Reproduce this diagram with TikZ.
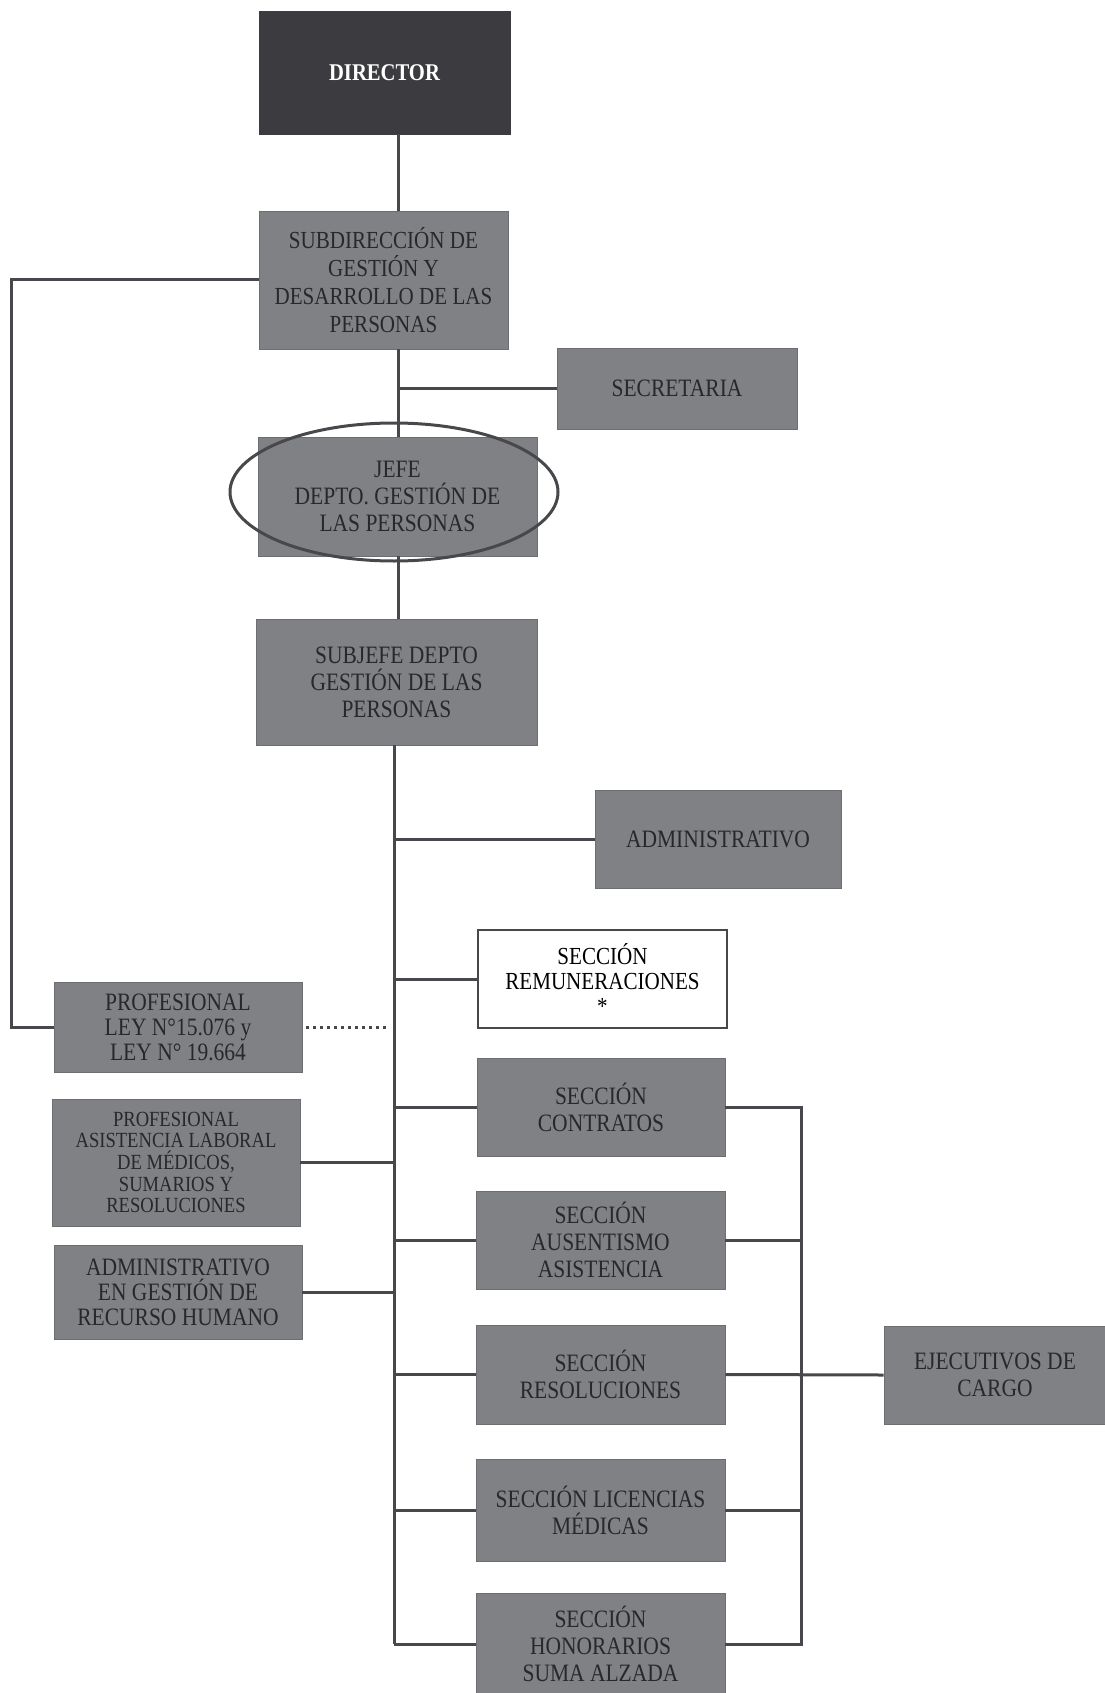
\documentclass[tikz,border=0pt]{standalone}
\usepackage{fontspec}
\setmainfont[FakeStretch=0.86]{Liberation Serif}
\usetikzlibrary{shapes.geometric}
\definecolor{boxgray}{RGB}{128,129,133}
\definecolor{boxtext}{RGB}{40,40,44}
\definecolor{dirgray}{RGB}{60,60,64}
\definecolor{linegray}{RGB}{72,72,76}
\tikzset{
  box/.style={fill=boxgray, draw=boxgray!85!black, line width=0.8pt, text=boxtext, align=center, inner sep=0pt,
    font=\fontsize{25}{27}\selectfont},
  whitebox/.style={fill=white, draw=linegray, line width=2pt, text=black, align=center, inner sep=0pt,
    font=\fontsize{24.5}{25}\selectfont},
  dirbox/.style={fill=dirgray, draw=dirgray, text=white, align=center, inner sep=0pt,
    font=\fontsize{24}{26}\selectfont\bfseries},
  conn/.style={draw=linegray, line width=3pt},
  dotconn/.style={draw=linegray, line width=3pt, dash pattern=on 2.5pt off 4.5pt},
  oval/.style={draw=linegray, line width=3pt, ellipse, fill=none, inner sep=0pt}
}
\begin{document}
\begin{tikzpicture}[x=1pt,y=-1pt]
\useasboundingbox[fill=white] (0,0) rectangle (1104,1693);
% trunk reference coordinates
\coordinate (tx) at (398,0);
\coordinate (tb) at (394,0);
\coordinate (rb) at (801,0);
\coordinate (L) at (11,0);

\node[dirbox, minimum width=251pt, minimum height=123pt] (dir) at (384.5,72.5) {DIRECTOR};
\node[box, minimum width=249pt, minimum height=138pt, font=\fontsize{24.5}{28}\selectfont] (sub) at (383.5,280) {SUBDIRECCIÓN DE\\GESTIÓN Y\\DESARROLLO DE LAS\\PERSONAS};
\node[box, minimum width=240pt, minimum height=81pt] (sec) at (677,388.5) {SECRETARIA};
\node[box, minimum width=279pt, minimum height=119pt] (jefe) at (397.5,496.5) {JEFE\\DEPTO. GESTIÓN DE\\LAS PERSONAS};
\node[box, minimum width=281pt, minimum height=126pt] (subjefe) at (396.5,682) {SUBJEFE DEPTO\\GESTIÓN DE LAS\\PERSONAS};
\node[box, minimum width=246pt, minimum height=98pt] (admin) at (718,839) {ADMINISTRATIVO};
\node[whitebox, minimum width=249pt, minimum height=98pt] (rem) at (602.5,979) {SECCIÓN\\REMUNERACIONES\\*};
\node[box, minimum width=248pt, minimum height=90pt, font=\fontsize{25}{25}\selectfont] (ley) at (178,1027) {PROFESIONAL\\LEY N°15.076 y\\LEY N° 19.664};
\node[box, minimum width=248pt, minimum height=98pt] (contr) at (601,1107) {SECCIÓN\\CONTRATOS};
\node[box, minimum width=248pt, minimum height=127pt, font=\fontsize{21.6}{21.6}\selectfont] (asis) at (176,1162.5) {PROFESIONAL\\ASISTENCIA LABORAL\\DE MÉDICOS,\\SUMARIOS Y\\RESOLUCIONES};
\node[box, minimum width=248pt, minimum height=94pt, font=\fontsize{25}{25}\selectfont] (admgest) at (178,1292) {ADMINISTRATIVO\\EN GESTIÓN DE\\RECURSO HUMANO};
\node[box, minimum width=249pt, minimum height=98pt] (ausen) at (600.5,1240) {SECCIÓN\\AUSENTISMO\\ASISTENCIA};
\node[box, minimum width=249pt, minimum height=99pt] (resol) at (600.5,1374.5) {SECCIÓN\\RESOLUCIONES};
\node[box, minimum width=222pt, minimum height=98pt] (ejec) at (995,1375) {EJECUTIVOS DE\\CARGO};
\node[box, minimum width=249pt, minimum height=102pt] (lic) at (600.5,1510) {SECCIÓN LICENCIAS\\MÉDICAS};
\node[box, minimum width=249pt, minimum height=102pt] (hon) at (600.5,1644) {SECCIÓN\\HONORARIOS\\SUMA ALZADA};

% highlight oval
\node[oval, minimum width=328pt, minimum height=138pt] (ring) at (394,492) {};

% upper trunk
\draw[conn] (dir.south -| tx) -- (sub.north -| tx);
\draw[conn] (sub.south -| tx) -- (jefe.north -| tx);
\draw[conn] (sec.west -| tx) -- (sec.west);
\draw[conn] (jefe.south -| tx) -- (subjefe.north -| tx);

% left loop from subdireccion to profesional ley
\draw[conn] (sub.west) -- (sub.west -| L) |- (ley.west);

% lower trunk
\draw[conn] (subjefe.south -| tb) -- (hon.west -| tb);
\draw[conn] (admin.west -| tb) -- (admin.west);
\draw[conn] (rem.west -| tb) -- (rem.west);
\draw[conn] (contr.west -| tb) -- (contr.west);
\draw[conn] (ausen.west -| tb) -- (ausen.west);
\draw[conn] (resol.west -| tb) -- (resol.west);
\draw[conn] (lic.west -| tb) -- (lic.west);
\draw[conn] (hon.west -| tb) -- (hon.west);
\draw[conn] (asis.east) -- (asis.east -| tb);
\draw[conn] (admgest.east) -- (admgest.east -| tb);
\draw[dotconn, shorten <=4pt, shorten >=6pt] (ley.east) -- (ley.east -| tb);

% right bus
\draw[conn] (contr.east) -- (contr.east -| rb) -- (hon.east -| rb) -- (hon.east);
\draw[conn] (ausen.east) -- (ausen.east -| rb);
\draw[conn] (lic.east) -- (lic.east -| rb);
\draw[conn] (resol.east) -- (ejec.west);
\end{tikzpicture}
\end{document}
